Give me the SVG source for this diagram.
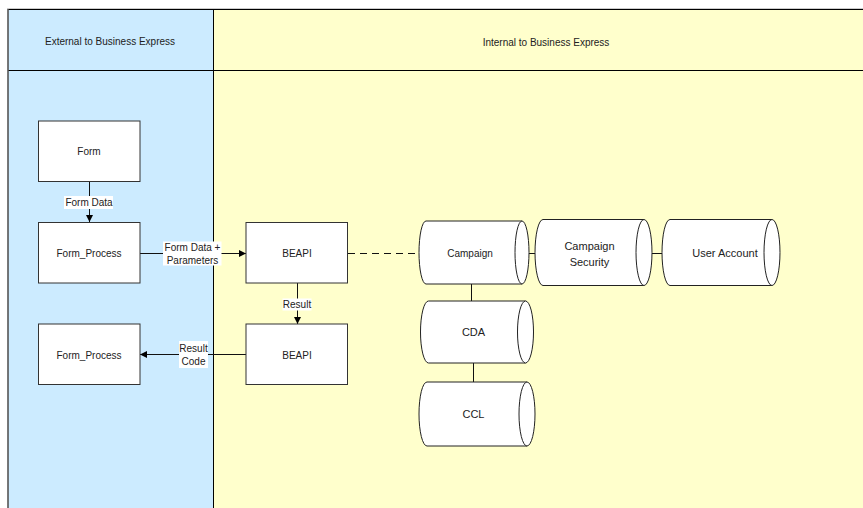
<svg xmlns="http://www.w3.org/2000/svg" width="863" height="508" viewBox="0 0 863 508">
<style>
.lbl{font-family:"Liberation Sans",Arial,sans-serif;font-size:10px;fill:#222;text-anchor:middle;dominant-baseline:central}
.cyl{font-family:"Liberation Sans",Arial,sans-serif;font-size:11px;fill:#222;text-anchor:middle;dominant-baseline:central}
.box{fill:#fff;stroke:#333;stroke-width:1}
.shape{fill:#fff;stroke:#222;stroke-width:1}
.conn{stroke:#111;stroke-width:1;fill:none}
.lbg{fill:#fff}
</style>
<defs>
<marker id="arr" viewBox="0 0 10 10" refX="10" refY="5" markerWidth="7" markerHeight="7" markerUnits="userSpaceOnUse" orient="auto">
<path d="M0,0 L10,5 L0,10 Z" fill="#000"/>
</marker>
</defs>
<rect width="863" height="508" fill="#fff"/>
<g id="lanes">
<rect x="8" y="9" width="205" height="505" fill="#CCEBFF"/>
<rect x="213" y="9" width="655" height="505" fill="#FFFFCC"/>
<line x1="7" y1="8.5" x2="863" y2="8.5" stroke="#ccc" stroke-width="1"/>
<line x1="8" y1="9.5" x2="863" y2="9.5" stroke="#000" stroke-width="1"/>
<line x1="8" y1="70.5" x2="863" y2="70.5" stroke="#000" stroke-width="1"/>
<line x1="213.5" y1="9" x2="213.5" y2="508" stroke="#000" stroke-width="1"/>
<line x1="8" y1="9" x2="8" y2="508" stroke="#555" stroke-width="1.6"/>
<text class="lbl" x="110" y="41">External to Business Express</text>
<text class="lbl" x="546" y="42">Internal to Business Express</text>
</g>
<g id="connectors">
<line class="conn" x1="89.5" y1="181" x2="89.5" y2="222" marker-end="url(#arr)"/>
<rect class="lbg" x="64" y="196" width="49" height="13"/>
<text class="lbl" x="89" y="202.5">Form Data</text>
<line class="conn" x1="140" y1="253.5" x2="246" y2="253.5" marker-end="url(#arr)"/>
<rect class="lbg" x="163" y="241.5" width="58.5" height="24"/>
<text class="lbl" x="192.5" y="247">Form Data +</text>
<text class="lbl" x="192.5" y="260">Parameters</text>
<line class="conn" x1="297.5" y1="283" x2="297.5" y2="324" marker-end="url(#arr)"/>
<rect class="lbg" x="282.5" y="298.5" width="29" height="12"/>
<text class="lbl" x="297" y="304.5">Result</text>
<line class="conn" x1="246" y1="354.5" x2="140" y2="354.5" marker-end="url(#arr)"/>
<rect class="lbg" x="179" y="341" width="29" height="27"/>
<text class="lbl" x="193.5" y="348">Result</text>
<text class="lbl" x="193.5" y="361.5">Code</text>
<line class="conn" x1="348" y1="253.5" x2="419" y2="253.5" stroke-dasharray="7,5"/>
<line class="conn" x1="522" y1="253.5" x2="535" y2="253.5"/>
<line class="conn" x1="644" y1="253.5" x2="662" y2="253.5"/>
<line class="conn" x1="471.5" y1="284" x2="471.5" y2="301"/>
<line class="conn" x1="473.5" y1="363" x2="473.5" y2="382"/>
</g>
<g id="form">
<rect class="box" x="38.5" y="121" width="101.5" height="60.5"/>
<text class="lbl" x="89" y="151">Form</text>
</g>
<g id="form_process_1">
<rect class="box" x="38.5" y="222.5" width="101.5" height="60.5"/>
<text class="lbl" x="89" y="253">Form_Process</text>
</g>
<g id="beapi_1">
<rect class="box" x="246" y="222.5" width="101.5" height="60.5"/>
<text class="lbl" x="297" y="253">BEAPI</text>
</g>
<g id="beapi_2">
<rect class="box" x="246" y="324" width="101.5" height="60.5"/>
<text class="lbl" x="297" y="355">BEAPI</text>
</g>
<g id="form_process_2">
<rect class="box" x="38.5" y="324" width="101.5" height="60.5"/>
<text class="lbl" x="89" y="355">Form_Process</text>
</g>
<g id="campaign">
<path class="shape" d="M426,221 L522,221 A7,31.5 0 0 1 522,284 L426,284 A7,31.5 0 0 1 426,221 Z"/>
<path class="shape" d="M522,221 A7,31.5 0 0 0 522,284"/>
<text class="lbl" x="470" y="253">Campaign</text>
</g>
<g id="campaign_security">
<path class="shape" d="M543,219.5 L644,219.5 A8,33 0 0 1 644,285.5 L543,285.5 A8,33 0 0 1 543,219.5 Z"/>
<path class="shape" d="M644,219.5 A8,33 0 0 0 644,285.5"/>
<text class="cyl" x="589.5" y="246">Campaign</text>
<text class="cyl" x="589.5" y="261.5">Security</text>
</g>
<g id="user_account">
<path class="shape" d="M670,219.5 L772,219.5 A8,33 0 0 1 772,285.5 L670,285.5 A8,33 0 0 1 670,219.5 Z"/>
<path class="shape" d="M772,219.5 A8,33 0 0 0 772,285.5"/>
<text class="cyl" x="725" y="253">User Account</text>
</g>
<g id="cda">
<path class="shape" d="M428.5,301 L525.5,301 A8,31 0 0 1 525.5,363 L428.5,363 A8,31 0 0 1 428.5,301 Z"/>
<path class="shape" d="M525.5,301 A8,31 0 0 0 525.5,363"/>
<text class="cyl" x="473.5" y="332">CDA</text>
</g>
<g id="ccl">
<path class="shape" d="M427,382 L527,382 A8,32 0 0 1 527,446 L427,446 A8,32 0 0 1 427,382 Z"/>
<path class="shape" d="M527,382 A8,32 0 0 0 527,446"/>
<text class="cyl" x="473.5" y="414">CCL</text>
</g>
</svg>
